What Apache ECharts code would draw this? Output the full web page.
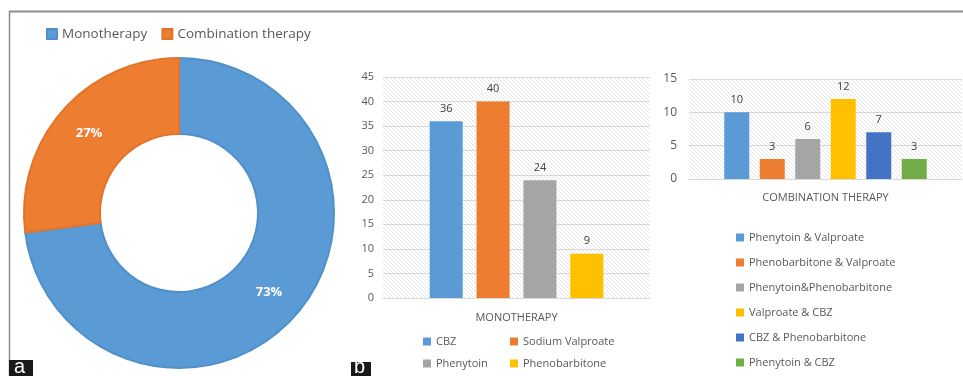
<!DOCTYPE html>
<html><head><meta charset="utf-8">
<script src="https://cdn.jsdelivr.net/npm/echarts@6/dist/echarts.min.js"></script>
<style>html,body{margin:0;padding:0;background:#fff}#c{width:963px;height:376px}</style>
</head><body><div id="c"></div>
<script>
const pieNames = ['Monotherapy', 'Combination therapy'];
const pieValues = [73, 27];
const pieColors = ['#5B9BD5', '#ED7D31'];

const monoCategory = ['MONOTHERAPY'];
const monoNames = ['CBZ', 'Sodium Valproate', 'Phenytoin', 'Phenobarbitone'];
const monoValues = [36, 40, 24, 9];
const monoColors = ['#5B9BD5', '#ED7D31', '#A5A5A5', '#FFC000'];

const comboCategory = ['COMBINATION THERAPY'];
const comboNames = ['Phenytoin & Valproate', 'Phenobarbitone & Valproate', 'Phenytoin&Phenobarbitone', 'Valproate & CBZ', 'CBZ & Phenobarbitone', 'Phenytoin & CBZ'];
const comboValues = [10, 3, 6, 12, 7, 3];
const comboColors = ['#5B9BD5', '#ED7D31', '#A5A5A5', '#FFC000', '#4472C4', '#70AD47'];

const monoTicks = {min: 0, max: 45, interval: 5};
const comboTicks = {min: 0, max: 15, interval: 5};

function hatch() {
  const c = document.createElement('canvas');
  c.width = 4; c.height = 4;
  const g = c.getContext('2d');
  g.fillStyle = '#ffffff'; g.fillRect(0, 0, 4, 4);
  g.strokeStyle = '#e6e6e6'; g.lineWidth = 1;
  g.beginPath();
  g.moveTo(-1, -1); g.lineTo(5, 5);
  g.moveTo(-1, 3); g.lineTo(1, 5);
  g.moveTo(3, -1); g.lineTo(5, 1);
  g.stroke();
  return {image: c, repeat: 'repeat'};
}
const pat = hatch();

const FONT = 'Open Sans';
const chart = echarts.init(document.getElementById('c'), null, {renderer: 'canvas'});

const series = [];
series.push({
  type: 'pie', center: [179, 213], radius: [79, 155], startAngle: 90, clockwise: true,
  label: {show: true, position: 'inside', formatter: '{c}%', color: '#fff', fontWeight: 'bold', fontSize: 13, fontFamily: FONT},
  labelLine: {show: false},
  itemStyle: {borderWidth: 2},
  data: pieNames.map((n, i) => ({name: n, value: pieValues[i], itemStyle: {color: pieColors[i], borderColor: i === 0 ? '#4f8fca' : '#e0742a'}}))
});
monoNames.forEach((n, i) => series.push({
  type: 'bar', name: n, xAxisIndex: 0, yAxisIndex: 0, data: [monoValues[i]],
  barWidth: 33, barGap: '42%', itemStyle: {color: monoColors[i]},
  label: {show: true, position: 'top', distance: 7, color: '#404040', fontSize: 11, fontFamily: FONT}
}));
comboNames.forEach((n, i) => series.push({
  type: 'bar', name: n, xAxisIndex: 1, yAxisIndex: 1, data: [comboValues[i]],
  barWidth: 25, barGap: '42%', itemStyle: {color: comboColors[i]},
  label: {show: true, position: 'top', distance: 7, color: '#404040', fontSize: 11, fontFamily: FONT}
}));

const legendText = {color: '#595959', fontFamily: FONT, fontSize: 11};
chart.setOption({
  animation: false,
  textStyle: {fontFamily: FONT},
  legend: [
    {data: pieNames, left: 41, top: 22, icon: 'rect', itemWidth: 10, itemHeight: 10, itemGap: 14,
     textStyle: {color: '#595959', fontFamily: FONT, fontSize: 13.5}},
    {data: [monoNames[0], monoNames[2]], orient: 'vertical', left: 418, top: 331, icon: 'rect', itemWidth: 8, itemHeight: 8, itemGap: 11, textStyle: legendText},
    {data: [monoNames[1], monoNames[3]], orient: 'vertical', left: 505, top: 331, icon: 'rect', itemWidth: 8, itemHeight: 8, itemGap: 11, textStyle: legendText},
    {data: comboNames, orient: 'vertical', left: 731, top: 227, icon: 'rect', itemWidth: 8, itemHeight: 8, itemGap: 14, textStyle: legendText}
  ],
  grid: [
    {left: 383, right: 313, top: 77, bottom: 78, show: true, backgroundColor: pat, borderWidth: 0},
    {left: 689, right: 1, top: 79, bottom: 197, show: true, backgroundColor: pat, borderWidth: 0}
  ],
  xAxis: [
    {type: 'category', gridIndex: 0, data: monoCategory, axisTick: {show: false},
     axisLine: {lineStyle: {color: '#d9d9d9'}}, axisLabel: {color: '#595959', fontSize: 11, margin: 14, fontFamily: FONT}},
    {type: 'category', gridIndex: 1, data: comboCategory, axisTick: {show: false},
     axisLine: {lineStyle: {color: '#d9d9d9'}}, axisLabel: {color: '#595959', fontSize: 11, margin: 13, fontFamily: FONT}}
  ],
  yAxis: [
    Object.assign({type: 'value', gridIndex: 0, axisLine: {show: false}, axisTick: {show: false},
     splitLine: {lineStyle: {color: '#d9d9d9'}}, axisLabel: {color: '#595959', fontSize: 11, margin: 9, fontFamily: FONT}}, monoTicks),
    Object.assign({type: 'value', gridIndex: 1, axisLine: {show: false}, axisTick: {show: false},
     splitLine: {lineStyle: {color: '#d9d9d9'}}, axisLabel: {color: '#595959', fontSize: 12, margin: 12, fontFamily: FONT}}, comboTicks)
  ],
  graphic: [
    {type: 'line', shape: {x1: 9, y1: 11.5, x2: 963, y2: 11.5}, style: {stroke: '#8c8c8c', lineWidth: 2}, z: 100},
    {type: 'line', shape: {x1: 9.5, y1: 11, x2: 9.5, y2: 376}, style: {stroke: '#8c8c8c', lineWidth: 1.5}, z: 100},
    {type: 'rect', shape: {x: 9, y: 360, width: 24, height: 16}, style: {fill: '#1a1a1a'}, z: 100},
    {type: 'text', left: 14, top: 357, style: {text: 'a', fill: '#fff', font: '20px "Liberation Sans"'}, z: 101},
    {type: 'rect', shape: {x: 351, y: 362, width: 20, height: 14}, style: {fill: '#1a1a1a'}, z: 100},
    {type: 'text', left: 354, top: 357, style: {text: 'b', fill: '#fff', font: '20px "Liberation Sans"'}, z: 101}
  ],
  series: series
});
</script></body></html>
